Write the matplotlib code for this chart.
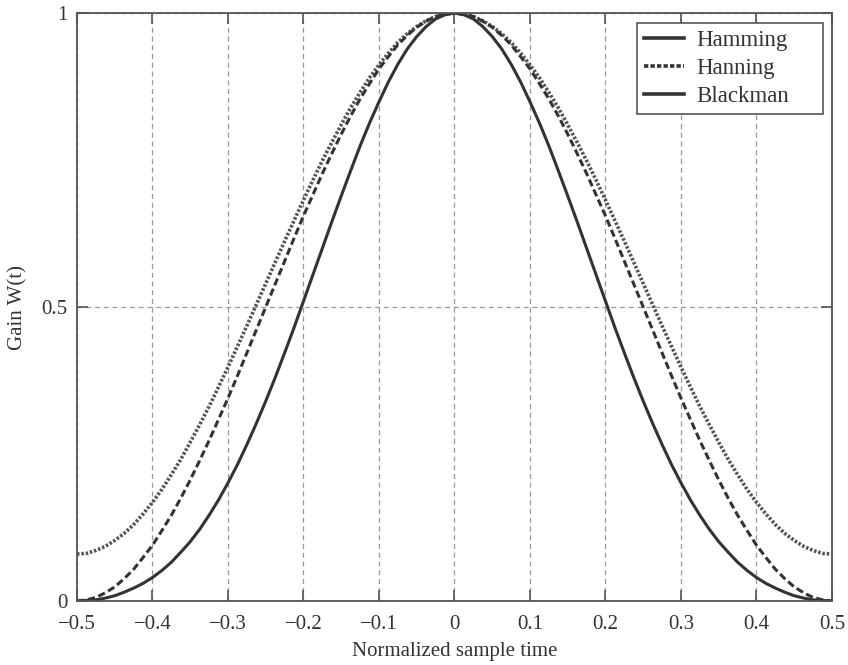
import matplotlib
matplotlib.use("Agg")
import matplotlib.pyplot as plt
from matplotlib.lines import Line2D

# --------------------------------------------------------------------------------------------------
# Window gains for t >= 0, sampled every 0.0125 of normalized time
t_half = [0.0, 0.0125, 0.025, 0.0375, 0.05, 0.0625, 0.075, 0.0875, 0.1, 0.1125,
          0.125, 0.1375, 0.15, 0.1625, 0.175, 0.1875, 0.2, 0.2125, 0.225, 0.2375,
          0.25, 0.2625, 0.275, 0.2875, 0.3, 0.3125, 0.325, 0.3375, 0.35, 0.3625,
          0.375, 0.3875, 0.4, 0.4125, 0.425, 0.4375, 0.45, 0.4625, 0.475, 0.4875, 0.5]

hamming_half = [1.000, 0.999, 0.994, 0.987, 0.977, 0.965, 0.950, 0.932, 0.912, 0.890,
                0.865, 0.839, 0.810, 0.780, 0.749, 0.716, 0.682, 0.647, 0.612, 0.576,
                0.540, 0.504, 0.468, 0.433, 0.398, 0.364, 0.331, 0.300, 0.270, 0.241,
                0.215, 0.190, 0.168, 0.148, 0.130, 0.115, 0.103, 0.093, 0.086, 0.081, 0.080]
hanning_half = [1.000, 0.998, 0.994, 0.986, 0.976, 0.962, 0.946, 0.926, 0.905, 0.880,
                0.854, 0.825, 0.794, 0.761, 0.727, 0.691, 0.655, 0.617, 0.578, 0.539,
                0.500, 0.461, 0.422, 0.383, 0.345, 0.309, 0.273, 0.239, 0.206, 0.175,
                0.146, 0.120, 0.095, 0.074, 0.054, 0.038, 0.024, 0.014, 0.006, 0.002, 0.000]
blackman_half = [1.000, 0.997, 0.990, 0.977, 0.960, 0.939, 0.913, 0.883, 0.849, 0.813,
                 0.774, 0.732, 0.689, 0.645, 0.600, 0.555, 0.510, 0.465, 0.422, 0.380,
                 0.340, 0.302, 0.266, 0.232, 0.201, 0.172, 0.146, 0.122, 0.101, 0.083,
                 0.066, 0.052, 0.040, 0.030, 0.022, 0.015, 0.009, 0.005, 0.002, 0.001, 0.000]

# the windows are symmetric about t = 0
t = [-v for v in t_half[::-1]] + t_half[1:]
hamming = hamming_half[::-1] + hamming_half[1:]
hanning = hanning_half[::-1] + hanning_half[1:]
blackman = blackman_half[::-1] + blackman_half[1:]

x_ticks = [-0.5, -0.4, -0.3, -0.2, -0.1, 0, 0.1, 0.2, 0.3, 0.4, 0.5]
x_labels = ["\u22120.5", "\u22120.4", "\u22120.3", "\u22120.2", "\u22120.1", "0",
            "0.1", "0.2", "0.3", "0.4", "0.5"]
y_ticks = [0, 0.5, 1]
y_labels = ["0", "0.5", "1"]
names = ["Hamming", "Hanning", "Blackman"]
FILE_FIG = "out.png"
# --------------------------------------------------------------------------------------------------


def main():
    plt.rcParams["font.family"] = "Liberation Serif"
    plt.rcParams["font.size"] = 15
    ink = "#333333"

    fig = plt.figure(figsize=(8.48, 6.65), dpi=100)
    ax = fig.add_axes([0.0908, 0.0962, 0.8903, 0.8842])

    ax.plot(t, hamming, color="#555555", linewidth=2.6, linestyle=(0, (0.7, 0.5)))
    ax.plot(t, hanning, color=ink, linewidth=2.2, linestyle=(0, (2.4, 1.2)))
    ax.plot(t, blackman, color=ink, linewidth=2.2)

    ax.set_xlim(-0.5, 0.5)
    ax.set_ylim(0, 1)
    ax.set_xticks(x_ticks)
    ax.set_xticklabels(x_labels)
    ax.set_yticks(y_ticks)
    ax.set_yticklabels(y_labels)
    ax.tick_params(direction="in", length=8, width=1.2, color="#555555",
                   labelcolor=ink, top=True, right=True)
    ax.tick_params(axis="x", pad=10)
    ax.tick_params(axis="y", pad=7)
    ax.grid(True, color="#999999", linestyle=(0, (4, 3)), linewidth=0.9)

    for sp in ax.spines.values():
        sp.set_color("#555555")
        sp.set_linewidth(1.3)

    ax.set_xlabel("Normalized sample time", color=ink, labelpad=6)
    ax.set_ylabel("Gain W(t)", color=ink, labelpad=10)

    handles = [Line2D([], [], color=ink, linewidth=2.6),
               Line2D([], [], color=ink, linewidth=2.6, linestyle=(0, (1.2, 0.6))),
               Line2D([], [], color=ink, linewidth=2.6)]
    leg = ax.legend(handles, names, loc="upper right", mode="expand",
                    bbox_to_anchor=(0.7417, 0.8265, 0.2464, 0.1565), borderaxespad=0,
                    fontsize=16.5, frameon=True, fancybox=False, edgecolor="#555555",
                    framealpha=1, handlelength=1.75, labelspacing=0.3,
                    borderpad=0.3, handletextpad=0.55)
    leg.get_frame().set_linewidth(1.2)
    for txt in leg.get_texts():
        txt.set_color(ink)

    plt.savefig(FILE_FIG, dpi=100)
    plt.close()


if __name__ == '__main__':
    main()
